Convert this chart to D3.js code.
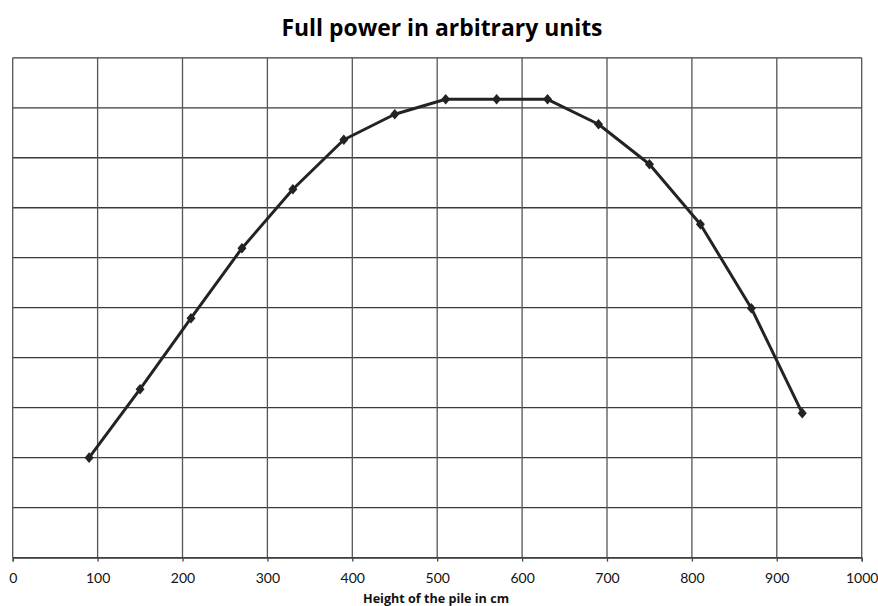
<!DOCTYPE html>
<html>
<head>
<meta charset="utf-8">
<script src="https://cdn.jsdelivr.net/npm/d3@7"></script>
<style>
  html, body { margin: 0; padding: 0; background: #fff; }
  svg { display: block; }
</style>
</head>
<body>
<svg id="chart" width="878" height="606"></svg>
<script>
const chartTitle = "Full power in arbitrary units";
const xAxisTitle = "Height of the pile in cm";
const heights = [90, 150, 210, 270, 330, 390, 450, 510, 570, 630, 690, 750, 810, 870, 930];
const power = [2.0, 3.37, 4.79, 6.19, 7.37, 8.36, 8.87, 9.17, 9.17, 9.17, 8.67, 7.87, 6.67, 4.99, 2.89];
const xTicks = [0, 100, 200, 300, 400, 500, 600, 700, 800, 900, 1000];
const yGrid = [0, 1, 2, 3, 4, 5, 6, 7, 8, 9, 10];

const svg = d3.select("#chart");
const plotLeft = 12.7, plotRight = 861.7, plotTop = 57.8, plotBottom = 557.6;

const x = d3.scaleLinear().domain([0, 1000]).range([plotLeft, plotRight]);
const y = d3.scaleLinear().domain([0, 10]).range([plotBottom, plotTop]);

// title
svg.append("text")
  .attr("x", 442).attr("y", 36)
  .attr("text-anchor", "middle")
  .attr("font-family", "'Open Sans', Lato, sans-serif")
  .attr("font-weight", "bold")
  .attr("font-size", 24)
  .attr("textLength", 321)
  .attr("lengthAdjust", "spacingAndGlyphs")
  .attr("fill", "#000")
  .text(chartTitle);

// horizontal grid
svg.append("g")
  .selectAll("line").data(yGrid).join("line")
  .attr("x1", plotLeft).attr("x2", plotRight)
  .attr("y1", d => y(d)).attr("y2", d => y(d))
  .attr("stroke", "#3a3a3a").attr("stroke-width", 1.3);

// vertical grid
svg.append("g")
  .selectAll("line").data(xTicks).join("line")
  .attr("x1", d => x(d)).attr("x2", d => x(d))
  .attr("y1", plotTop).attr("y2", plotBottom)
  .attr("stroke", "#555").attr("stroke-width", 1.3);

// x axis
const xAxis = d3.axisBottom(x).tickValues(xTicks).tickSize(4).tickPadding(11).tickFormat(d3.format("d"));
const gx = svg.append("g").attr("transform", `translate(0,${plotBottom})`).call(xAxis);
gx.select(".domain").attr("stroke", "#444").attr("stroke-width", 1.3);
gx.selectAll(".tick line").attr("stroke", "#444").attr("stroke-width", 1.3);
gx.selectAll(".tick text")
  .attr("font-family", "Lato, 'Open Sans', sans-serif")
  .attr("font-size", 14)
  .attr("fill", "#111");

// x axis title
svg.append("text")
  .attr("x", 436).attr("y", 603)
  .attr("text-anchor", "middle")
  .attr("font-family", "'Open Sans', Lato, sans-serif")
  .attr("font-weight", "bold")
  .attr("font-size", 11.5)
  .attr("textLength", 146)
  .attr("lengthAdjust", "spacingAndGlyphs")
  .attr("fill", "#111")
  .text(xAxisTitle);

// line
const data = heights.map((h, i) => ({ h, p: power[i] }));
const line = d3.line()
  .x(d => x(d.h)).y(d => y(d.p))
  .curve(d3.curveLinear);
svg.append("path")
  .datum(data)
  .attr("d", line)
  .attr("fill", "none")
  .attr("stroke", "#232323")
  .attr("stroke-width", 3)
  .attr("stroke-linejoin", "round");

// markers (square rotated 45° = diamond)
svg.append("g")
  .selectAll("path").data(data).join("path")
  .attr("d", d3.symbol().type(d3.symbolSquare).size(56))
  .attr("transform", d => `translate(${x(d.h)},${y(d.p)}) scale(0.85,1) rotate(45)`)
  .attr("fill", "#232323");
</script>
</body>
</html>
